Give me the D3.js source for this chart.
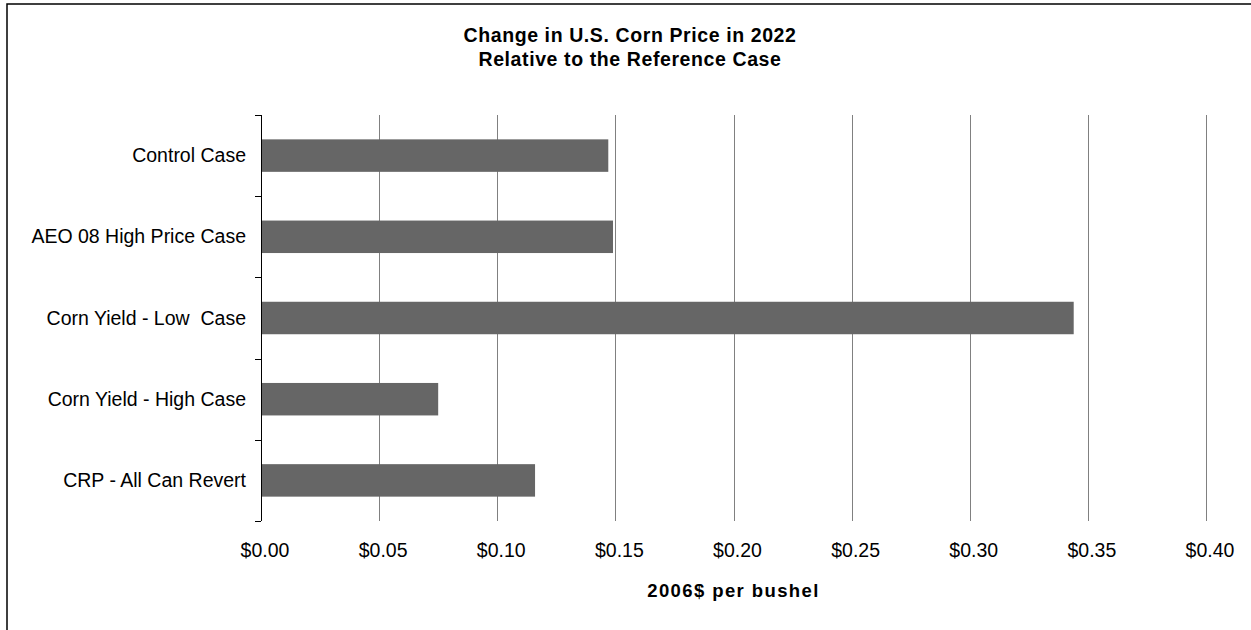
<!DOCTYPE html>
<html>
<head>
<meta charset="utf-8">
<script src="https://cdn.jsdelivr.net/npm/d3@7"></script>
<style>
  html, body { margin: 0; padding: 0; background: #fff; }
  svg { display: block; }
  text { font-family: "Liberation Sans", Arial, sans-serif; fill: #000; }
</style>
</head>
<body>
<svg id="chart" width="1251" height="630"></svg>
<script>
// Scenario names (top to bottom) and the change in corn price, 2006$ per bushel
const categories = [
  "Control Case",
  "AEO 08 High Price Case",
  "Corn Yield - Low  Case",
  "Corn Yield - High Case",
  "CRP - All Can Revert"
];
const values = [0.147, 0.149, 0.344, 0.075, 0.116];
const tickValues = [0, 0.05, 0.10, 0.15, 0.20, 0.25, 0.30, 0.35, 0.40];
const titleLines = ["Change in U.S. Corn Price in 2022", "Relative to the Reference Case"];
const xTitle = "2006$ per bushel";

const svg = d3.select("#chart");
const W = 1251, H = 630;
const plot = { left: 261, right: 1206, top: 115, bottom: 521 };

// outer frame
svg.append("rect")
  .attr("x", 7).attr("y", 4)
  .attr("width", W + 20).attr("height", H + 20)
  .attr("fill", "none").attr("stroke", "#000").attr("stroke-width", 1.5);

const x = d3.scaleLinear().domain([0, 0.40]).range([plot.left, plot.right]);
// bands for category boundaries (tick marks) and bars
const yCat = d3.scaleBand().domain(categories).range([plot.top, plot.bottom]).padding(0);
const yBar = d3.scaleBand().domain(categories).range([plot.top, plot.bottom])
  .paddingInner(0.6).paddingOuter(0.3);

// vertical gridlines
svg.append("g").selectAll("line")
  .data(tickValues.filter(d => d > 0))
  .join("line")
  .attr("x1", d => Math.round(x(d)) + 0.5).attr("x2", d => Math.round(x(d)) + 0.5)
  .attr("y1", plot.top).attr("y2", plot.bottom)
  .attr("stroke", "#808080").attr("stroke-width", 1);

// bars
svg.append("g").selectAll("rect")
  .data(categories)
  .join("rect")
  .attr("x", x(0))
  .attr("y", d => yBar(d))
  .attr("width", (d, i) => x(values[i]) - x(0))
  .attr("height", yBar.bandwidth())
  .attr("fill", "#666666");

// category axis line and boundary ticks
const boundaries = categories.map(c => yCat(c)).concat([plot.bottom]);
svg.append("line")
  .attr("x1", plot.left + 0.5).attr("x2", plot.left + 0.5)
  .attr("y1", plot.top).attr("y2", plot.bottom)
  .attr("stroke", "#000").attr("stroke-width", 1);
svg.append("g").selectAll("line")
  .data(boundaries)
  .join("line")
  .attr("x1", plot.left - 6).attr("x2", plot.left)
  .attr("y1", d => Math.round(d) + 0.5).attr("y2", d => Math.round(d) + 0.5)
  .attr("stroke", "#000").attr("stroke-width", 1);

// category labels
svg.append("g").selectAll("text")
  .data(categories)
  .join("text")
  .attr("x", 246)
  .attr("y", d => yCat(d) + yCat.bandwidth() / 2 + 6.5)
  .attr("text-anchor", "end")
  .attr("font-size", "19.5px")
  .style("white-space", "pre")
  .text(d => d);

// value tick labels
const fmt = d3.format("$.2f");
svg.append("g").selectAll("text")
  .data(tickValues)
  .join("text")
  .attr("x", d => x(d) + 4)
  .attr("y", 557)
  .attr("text-anchor", "middle")
  .attr("font-size", "19.5px")
  .text(d => fmt(d));

// axis title
svg.append("text")
  .attr("x", (plot.left + plot.right) / 2)
  .attr("y", 597)
  .attr("text-anchor", "middle")
  .attr("font-size", "18.5px")
  .attr("font-weight", "bold")
  .attr("letter-spacing", "1.4px")
  .text(xTitle);

// chart title
svg.append("g").selectAll("text")
  .data(titleLines)
  .join("text")
  .attr("x", 630)
  .attr("y", (d, i) => 42 + i * 24)
  .attr("text-anchor", "middle")
  .attr("font-size", "19.5px")
  .attr("font-weight", "bold")
  .attr("letter-spacing", "0.6px")
  .text(d => d);
</script>
</body>
</html>
